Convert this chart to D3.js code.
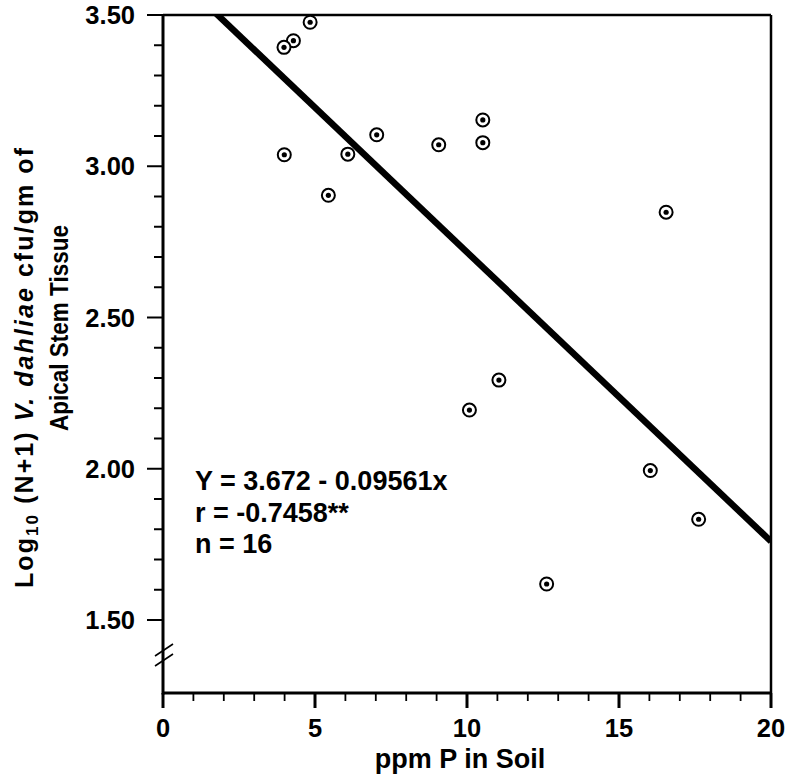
<!DOCTYPE html>
<html>
<head>
<meta charset="utf-8">
<script src="https://cdn.jsdelivr.net/npm/d3@7/dist/d3.min.js"></script>
<style>
  body { margin: 0; background: #fff; }
  text { font-family: "Liberation Sans", Arial, Helvetica, sans-serif; font-weight: bold; fill: #000; }
</style>
</head>
<body>
<div id="chart"></div>
<script>
// values
var ppmP = [4.84, 4.29, 3.98, 7.03, 3.99, 6.08, 5.44, 9.07, 10.52, 10.52, 16.55, 11.05, 10.08, 16.03, 17.62, 12.62];
var logCfu = [3.476, 3.415, 3.393, 3.104, 3.038, 3.040, 2.904, 3.071, 3.153, 3.078, 2.848, 2.293, 2.194, 1.994, 1.833, 1.619];
var xTicks = [0, 5, 10, 15, 20];
var yTicks = [1.5, 2.0, 2.5, 3.0, 3.5];
var fitIntercept = 3.672,
  fitSlope = -0.09561;
var statLines = ["Y = 3.672 - 0.09561x", "r = -0.7458**", "n = 16"];

var width = 786,
  height = 779;
var plotL = 163,
  plotR = 771,
  plotT = 15,
  plotB = 693;

var svg = d3
  .select("#chart")
  .append("svg")
  .attr("width", width)
  .attr("height", height);

var x = d3.scaleLinear().domain([0, 20]).range([plotL, plotR]);
var y = d3.scaleLinear().domain([1.5, 3.5]).range([620, plotT]);

svg.append("clipPath").attr("id", "plot")
  .append("rect")
  .attr("x", plotL).attr("y", plotT)
  .attr("width", plotR - plotL).attr("height", plotB - plotT);

// frame
svg.append("line").attr("x1", plotL).attr("x2", plotR).attr("y1", plotT).attr("y2", plotT)
  .attr("stroke", "#000").attr("stroke-width", 2.4);
svg.append("line").attr("x1", plotR).attr("x2", plotR).attr("y1", plotT).attr("y2", plotB)
  .attr("stroke", "#000").attr("stroke-width", 2.5);
svg.append("line").attr("x1", plotL).attr("x2", plotR).attr("y1", plotB).attr("y2", plotB)
  .attr("stroke", "#000").attr("stroke-width", 3);
svg.append("line").attr("x1", plotL).attr("x2", plotL).attr("y1", plotT).attr("y2", plotB + 1.5)
  .attr("stroke", "#000").attr("stroke-width", 3);

// y ticks
var yMinor = d3.range(15, 36).map(function(d) { return d / 10; });
svg.selectAll(".ymin")
  .data(yMinor)
  .enter()
  .append("line")
  .attr("x1", function(d) { return Math.round(d * 10) % 5 == 0 ? plotL - 16 : plotL - 9; })
  .attr("x2", plotL)
  .attr("y1", d => y(d))
  .attr("y2", d => y(d))
  .attr("stroke", "#000")
  .attr("stroke-width", 2);

svg.selectAll(".ylab")
  .data(yTicks)
  .enter()
  .append("text")
  .attr("x", 135)
  .attr("y", d => y(d) + 9)
  .attr("text-anchor", "end")
  .style("font-size", "25.5px")
  .text(d => d.toFixed(2));

// x ticks
var xMinor = d3.range(0, 21);
svg.selectAll(".xmin")
  .data(xMinor)
  .enter()
  .append("line")
  .attr("x1", d => x(d))
  .attr("x2", d => x(d))
  .attr("y1", plotB)
  .attr("y2", function(d) { return d % 5 == 0 ? plotB + 15 : plotB + 8; })
  .attr("stroke", "#000")
  .attr("stroke-width", function(d) { return d % 5 == 0 ? 3 : 1.8; });

svg.selectAll(".xlab")
  .data(xTicks)
  .enter()
  .append("text")
  .attr("x", d => x(d))
  .attr("y", 737)
  .attr("text-anchor", "middle")
  .style("font-size", "25.5px")
  .text(d => d);

// axis break
[0, 10].forEach(function(off) {
  svg.append("line")
    .attr("x1", 155).attr("y1", 656 + off)
    .attr("x2", 173).attr("y2", 644 + off)
    .attr("stroke", "#000").attr("stroke-width", 1.6);
});

// regression line
svg.append("line")
  .attr("clip-path", "url(#plot)")
  .attr("x1", x(0))
  .attr("y1", y(fitIntercept))
  .attr("x2", x(20))
  .attr("y2", y(fitIntercept + fitSlope * 20))
  .attr("stroke", "#000")
  .attr("stroke-width", 6.5);

// points
var pts = svg.selectAll(".pt")
  .data(ppmP)
  .enter()
  .append("g")
  .attr("transform", (d, i) => "translate(" + x(d) + "," + y(logCfu[i]) + ")");
pts.append("circle").attr("r", 6.5).attr("fill", "#fff").attr("stroke", "#000").attr("stroke-width", 2);
pts.append("circle").attr("r", 2.6).attr("fill", "#000");

// stats
svg.selectAll(".stat")
  .data(statLines)
  .enter()
  .append("text")
  .attr("x", 195)
  .attr("y", (d, i) => 490 + i * 31.5)
  .style("font-size", "27px")
  .text(d => d);

// axis titles
svg.append("text")
  .attr("x", 460)
  .attr("y", 768)
  .attr("text-anchor", "middle")
  .style("font-size", "27px")
  .text("ppm P in Soil");

var t1 = svg.append("text")
  .attr("transform", "translate(33,368) rotate(-90)")
  .attr("text-anchor", "middle")
  .attr("textLength", 440)
  .attr("lengthAdjust", "spacing")
  .style("font-size", "25px");
t1.append("tspan").text("Log");
t1.append("tspan").attr("dy", 5).style("font-size", "17px").text("10");
t1.append("tspan").attr("dy", -5).text(" (N+1) ");
t1.append("tspan").style("font-style", "italic").text("V. dahliae");
t1.append("tspan").text(" cfu/gm of");

svg.append("text")
  .attr("transform", "translate(68,328) rotate(-90)")
  .attr("text-anchor", "middle")
  .attr("textLength", 206)
  .attr("lengthAdjust", "spacingAndGlyphs")
  .style("font-size", "25px")
  .text("Apical Stem Tissue");
</script>
</body>
</html>
